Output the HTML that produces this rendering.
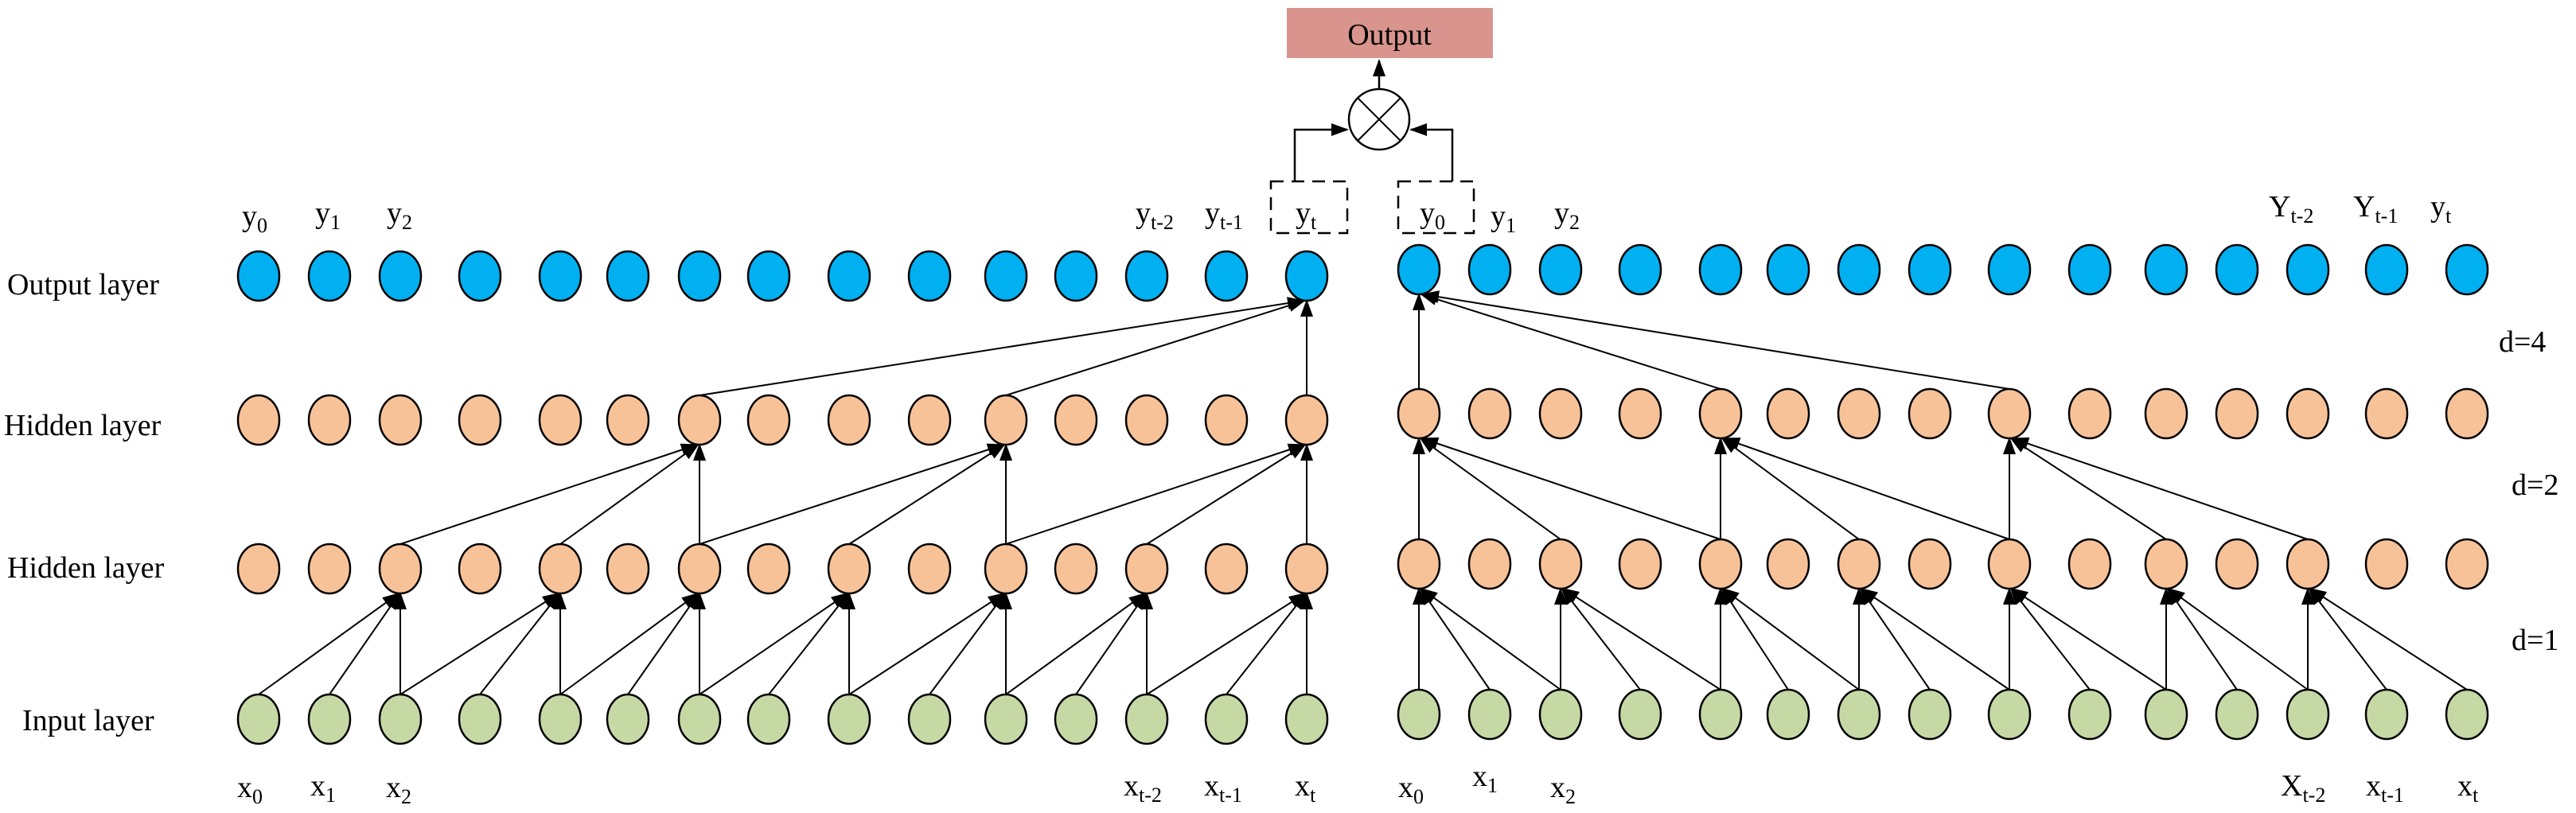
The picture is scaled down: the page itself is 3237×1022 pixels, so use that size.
<!DOCTYPE html>
<html><head><meta charset="utf-8"><style>
html,body{margin:0;padding:0;background:#fff;}
svg{display:block;}
text{font-family:"Liberation Serif",serif;fill:#000;}
</style></head><body>
<svg width="3237" height="1022" viewBox="0 0 3237 1022" xmlns="http://www.w3.org/2000/svg">
<defs>
<marker id="a" markerUnits="userSpaceOnUse" markerWidth="22" markerHeight="16" refX="20" refY="8" orient="auto"><path d="M0,0 L22,8 L0,16 z" fill="#000"/></marker>
</defs>
<!-- Output box -->
<rect x="1617" y="10" width="259" height="63" fill="#d9958d"/>
<text x="1746" y="56" font-size="38" text-anchor="middle">Output</text>
<line x1="1733" y1="112" x2="1733" y2="76" stroke="#000" stroke-width="2.5" marker-end="url(#a)"/>
<circle cx="1733" cy="150" r="38" fill="#fff" stroke="#000" stroke-width="2.5"/>
<line x1="1706" y1="123" x2="1760" y2="177" stroke="#000" stroke-width="2"/>
<line x1="1760" y1="123" x2="1706" y2="177" stroke="#000" stroke-width="2"/>
<polyline points="1627,228 1627,163 1693,163" fill="none" stroke="#000" stroke-width="2.5" marker-end="url(#a)"/>
<polyline points="1825,228 1825,163 1773,163" fill="none" stroke="#000" stroke-width="2.5" marker-end="url(#a)"/>
<rect x="1597" y="228" width="96" height="65" fill="none" stroke="#000" stroke-width="2.5" stroke-dasharray="16,10"/>
<rect x="1757" y="228" width="95" height="65" fill="none" stroke="#000" stroke-width="2.5" stroke-dasharray="16,10"/>

<!-- layer labels -->
<g font-size="38">
<text x="9" y="370">Output layer</text>
<text x="5" y="547">Hidden layer</text>
<text x="9" y="726">Hidden layer</text>
<text x="28" y="918">Input layer</text>
<text x="3140" y="442">d=4</text>
<text x="3156" y="622">d=2</text>
<text x="3156" y="817">d=1</text>
</g>

<!-- top labels -->
<g font-size="38">
<text x="304" y="284">y<tspan font-size="26" dy="8">0</tspan></text>
<text x="396" y="280">y<tspan font-size="26" dy="8">1</tspan></text>
<text x="486" y="280">y<tspan font-size="26" dy="8">2</tspan></text>
<text x="1427" y="280">y<tspan font-size="26" dy="8">t-2</tspan></text>
<text x="1514" y="280">y<tspan font-size="26" dy="8">t-1</tspan></text>
<text x="1628" y="280">y<tspan font-size="26" dy="8">t</tspan></text>
<text x="1784" y="280">y<tspan font-size="26" dy="8">0</tspan></text>
<text x="1873" y="284">y<tspan font-size="26" dy="8">1</tspan></text>
<text x="1953" y="280">y<tspan font-size="26" dy="8">2</tspan></text>
<text x="2851" y="272">Y<tspan font-size="26" dy="8">t-2</tspan></text>
<text x="2957" y="272">Y<tspan font-size="26" dy="8">t-1</tspan></text>
<text x="3054" y="272">y<tspan font-size="26" dy="8">t</tspan></text>
<!-- bottom labels -->
<text x="298" y="1002">x<tspan font-size="26" dy="8">0</tspan></text>
<text x="390" y="1000">x<tspan font-size="26" dy="8">1</tspan></text>
<text x="485" y="1002">x<tspan font-size="26" dy="8">2</tspan></text>
<text x="1412" y="1000">x<tspan font-size="26" dy="8">t-2</tspan></text>
<text x="1513" y="1000">x<tspan font-size="26" dy="8">t-1</tspan></text>
<text x="1627" y="1000">x<tspan font-size="26" dy="8">t</tspan></text>
<text x="1757" y="1002">x<tspan font-size="26" dy="8">0</tspan></text>
<text x="1850" y="988">x<tspan font-size="26" dy="8">1</tspan></text>
<text x="1948" y="1002">x<tspan font-size="26" dy="8">2</tspan></text>
<text x="2866" y="1000">X<tspan font-size="26" dy="8">t-2</tspan></text>
<text x="2973" y="1000">x<tspan font-size="26" dy="8">t-1</tspan></text>
<text x="3088" y="1000">x<tspan font-size="26" dy="8">t</tspan></text>
</g>

<!-- edges -->
<g stroke="#000" stroke-width="2" marker-end="url(#a)">
<!-- left I->H1 -->
<line x1="325" y1="873" x2="501" y2="746"/><line x1="414" y1="873" x2="502" y2="746"/><line x1="503" y1="873" x2="503" y2="746"/>
<line x1="503" y1="873" x2="702" y2="746"/><line x1="603" y1="873" x2="703" y2="746"/><line x1="704" y1="873" x2="704" y2="746"/>
<line x1="704" y1="873" x2="877" y2="746"/><line x1="789" y1="873" x2="878" y2="746"/><line x1="879" y1="873" x2="879" y2="746"/>
<line x1="879" y1="873" x2="1065" y2="746"/><line x1="966" y1="873" x2="1066" y2="746"/><line x1="1067" y1="873" x2="1067" y2="746"/>
<line x1="1067" y1="873" x2="1262" y2="746"/><line x1="1168" y1="873" x2="1263" y2="746"/><line x1="1264" y1="873" x2="1264" y2="746"/>
<line x1="1264" y1="873" x2="1439" y2="746"/><line x1="1352" y1="873" x2="1440" y2="746"/><line x1="1441" y1="873" x2="1441" y2="746"/>
<line x1="1441" y1="873" x2="1640" y2="746"/><line x1="1541" y1="873" x2="1641" y2="746"/><line x1="1642" y1="873" x2="1642" y2="746"/>
<!-- left H1->H2 -->
<line x1="503" y1="684" x2="876" y2="559"/><line x1="704" y1="684" x2="877" y2="559"/><line x1="879" y1="684" x2="879" y2="559"/>
<line x1="879" y1="684" x2="1261" y2="559"/><line x1="1067" y1="684" x2="1262" y2="559"/><line x1="1264" y1="684" x2="1264" y2="559"/>
<line x1="1264" y1="684" x2="1639" y2="559"/><line x1="1441" y1="684" x2="1640" y2="559"/><line x1="1642" y1="684" x2="1642" y2="559"/>
<!-- left H2->O -->
<line x1="879" y1="497" x2="1638" y2="378"/><line x1="1264" y1="497" x2="1639" y2="378"/><line x1="1642" y1="497" x2="1642" y2="378"/>
<!-- right I->H1 -->
<line x1="1783" y1="867" x2="1783" y2="740"/><line x1="1872" y1="867" x2="1785" y2="740"/><line x1="1961" y1="867" x2="1786" y2="740"/>
<line x1="1961" y1="867" x2="1961" y2="740"/><line x1="2061" y1="867" x2="1963" y2="740"/><line x1="2162" y1="867" x2="1964" y2="740"/>
<line x1="2162" y1="867" x2="2162" y2="740"/><line x1="2247" y1="867" x2="2164" y2="740"/><line x1="2336" y1="867" x2="2165" y2="740"/>
<line x1="2336" y1="867" x2="2336" y2="740"/><line x1="2425" y1="867" x2="2338" y2="740"/><line x1="2525" y1="867" x2="2339" y2="740"/>
<line x1="2525" y1="867" x2="2525" y2="740"/><line x1="2626" y1="867" x2="2527" y2="740"/><line x1="2722" y1="867" x2="2528" y2="740"/>
<line x1="2722" y1="867" x2="2722" y2="740"/><line x1="2811" y1="867" x2="2724" y2="740"/><line x1="2900" y1="867" x2="2725" y2="740"/>
<line x1="2900" y1="867" x2="2900" y2="740"/><line x1="2999" y1="867" x2="2902" y2="740"/><line x1="3100" y1="867" x2="2903" y2="740"/>
<!-- right H1->H2 -->
<line x1="1783" y1="678" x2="1783" y2="551"/><line x1="1961" y1="678" x2="1785" y2="551"/><line x1="2162" y1="678" x2="1787" y2="551"/>
<line x1="2162" y1="678" x2="2162" y2="551"/><line x1="2336" y1="678" x2="2164" y2="551"/><line x1="2525" y1="678" x2="2166" y2="551"/>
<line x1="2525" y1="678" x2="2525" y2="551"/><line x1="2722" y1="678" x2="2527" y2="551"/><line x1="2900" y1="678" x2="2529" y2="551"/>
<!-- right H2->O -->
<line x1="1783" y1="489" x2="1783" y2="370"/><line x1="2162" y1="489" x2="1786" y2="370"/><line x1="2525" y1="489" x2="1788" y2="370"/>
</g>

<!-- nodes -->
<g stroke="#000" stroke-width="2.5">
<g fill="#00b0f0">
<ellipse cx="325" cy="347" rx="26" ry="31"/><ellipse cx="414" cy="347" rx="26" ry="31"/><ellipse cx="503" cy="347" rx="26" ry="31"/><ellipse cx="603" cy="347" rx="26" ry="31"/><ellipse cx="704" cy="347" rx="26" ry="31"/><ellipse cx="789" cy="347" rx="26" ry="31"/><ellipse cx="879" cy="347" rx="26" ry="31"/><ellipse cx="966" cy="347" rx="26" ry="31"/><ellipse cx="1067" cy="347" rx="26" ry="31"/><ellipse cx="1168" cy="347" rx="26" ry="31"/><ellipse cx="1264" cy="347" rx="26" ry="31"/><ellipse cx="1352" cy="347" rx="26" ry="31"/><ellipse cx="1441" cy="347" rx="26" ry="31"/><ellipse cx="1541" cy="347" rx="26" ry="31"/><ellipse cx="1642" cy="347" rx="26" ry="31"/>
<ellipse cx="1783" cy="339" rx="26" ry="31"/><ellipse cx="1872" cy="339" rx="26" ry="31"/><ellipse cx="1961" cy="339" rx="26" ry="31"/><ellipse cx="2061" cy="339" rx="26" ry="31"/><ellipse cx="2162" cy="339" rx="26" ry="31"/><ellipse cx="2247" cy="339" rx="26" ry="31"/><ellipse cx="2336" cy="339" rx="26" ry="31"/><ellipse cx="2425" cy="339" rx="26" ry="31"/><ellipse cx="2525" cy="339" rx="26" ry="31"/><ellipse cx="2626" cy="339" rx="26" ry="31"/><ellipse cx="2722" cy="339" rx="26" ry="31"/><ellipse cx="2811" cy="339" rx="26" ry="31"/><ellipse cx="2900" cy="339" rx="26" ry="31"/><ellipse cx="2999" cy="339" rx="26" ry="31"/><ellipse cx="3100" cy="339" rx="26" ry="31"/>
</g>
<g fill="#f8c298">
<ellipse cx="325" cy="528" rx="26" ry="31"/><ellipse cx="414" cy="528" rx="26" ry="31"/><ellipse cx="503" cy="528" rx="26" ry="31"/><ellipse cx="603" cy="528" rx="26" ry="31"/><ellipse cx="704" cy="528" rx="26" ry="31"/><ellipse cx="789" cy="528" rx="26" ry="31"/><ellipse cx="879" cy="528" rx="26" ry="31"/><ellipse cx="966" cy="528" rx="26" ry="31"/><ellipse cx="1067" cy="528" rx="26" ry="31"/><ellipse cx="1168" cy="528" rx="26" ry="31"/><ellipse cx="1264" cy="528" rx="26" ry="31"/><ellipse cx="1352" cy="528" rx="26" ry="31"/><ellipse cx="1441" cy="528" rx="26" ry="31"/><ellipse cx="1541" cy="528" rx="26" ry="31"/><ellipse cx="1642" cy="528" rx="26" ry="31"/>
<ellipse cx="1783" cy="520" rx="26" ry="31"/><ellipse cx="1872" cy="520" rx="26" ry="31"/><ellipse cx="1961" cy="520" rx="26" ry="31"/><ellipse cx="2061" cy="520" rx="26" ry="31"/><ellipse cx="2162" cy="520" rx="26" ry="31"/><ellipse cx="2247" cy="520" rx="26" ry="31"/><ellipse cx="2336" cy="520" rx="26" ry="31"/><ellipse cx="2425" cy="520" rx="26" ry="31"/><ellipse cx="2525" cy="520" rx="26" ry="31"/><ellipse cx="2626" cy="520" rx="26" ry="31"/><ellipse cx="2722" cy="520" rx="26" ry="31"/><ellipse cx="2811" cy="520" rx="26" ry="31"/><ellipse cx="2900" cy="520" rx="26" ry="31"/><ellipse cx="2999" cy="520" rx="26" ry="31"/><ellipse cx="3100" cy="520" rx="26" ry="31"/>
<ellipse cx="325" cy="715" rx="26" ry="31"/><ellipse cx="414" cy="715" rx="26" ry="31"/><ellipse cx="503" cy="715" rx="26" ry="31"/><ellipse cx="603" cy="715" rx="26" ry="31"/><ellipse cx="704" cy="715" rx="26" ry="31"/><ellipse cx="789" cy="715" rx="26" ry="31"/><ellipse cx="879" cy="715" rx="26" ry="31"/><ellipse cx="966" cy="715" rx="26" ry="31"/><ellipse cx="1067" cy="715" rx="26" ry="31"/><ellipse cx="1168" cy="715" rx="26" ry="31"/><ellipse cx="1264" cy="715" rx="26" ry="31"/><ellipse cx="1352" cy="715" rx="26" ry="31"/><ellipse cx="1441" cy="715" rx="26" ry="31"/><ellipse cx="1541" cy="715" rx="26" ry="31"/><ellipse cx="1642" cy="715" rx="26" ry="31"/>
<ellipse cx="1783" cy="709" rx="26" ry="31"/><ellipse cx="1872" cy="709" rx="26" ry="31"/><ellipse cx="1961" cy="709" rx="26" ry="31"/><ellipse cx="2061" cy="709" rx="26" ry="31"/><ellipse cx="2162" cy="709" rx="26" ry="31"/><ellipse cx="2247" cy="709" rx="26" ry="31"/><ellipse cx="2336" cy="709" rx="26" ry="31"/><ellipse cx="2425" cy="709" rx="26" ry="31"/><ellipse cx="2525" cy="709" rx="26" ry="31"/><ellipse cx="2626" cy="709" rx="26" ry="31"/><ellipse cx="2722" cy="709" rx="26" ry="31"/><ellipse cx="2811" cy="709" rx="26" ry="31"/><ellipse cx="2900" cy="709" rx="26" ry="31"/><ellipse cx="2999" cy="709" rx="26" ry="31"/><ellipse cx="3100" cy="709" rx="26" ry="31"/>
</g>
<g fill="#c6d9a5">
<ellipse cx="325" cy="904" rx="26" ry="31"/><ellipse cx="414" cy="904" rx="26" ry="31"/><ellipse cx="503" cy="904" rx="26" ry="31"/><ellipse cx="603" cy="904" rx="26" ry="31"/><ellipse cx="704" cy="904" rx="26" ry="31"/><ellipse cx="789" cy="904" rx="26" ry="31"/><ellipse cx="879" cy="904" rx="26" ry="31"/><ellipse cx="966" cy="904" rx="26" ry="31"/><ellipse cx="1067" cy="904" rx="26" ry="31"/><ellipse cx="1168" cy="904" rx="26" ry="31"/><ellipse cx="1264" cy="904" rx="26" ry="31"/><ellipse cx="1352" cy="904" rx="26" ry="31"/><ellipse cx="1441" cy="904" rx="26" ry="31"/><ellipse cx="1541" cy="904" rx="26" ry="31"/><ellipse cx="1642" cy="904" rx="26" ry="31"/>
<ellipse cx="1783" cy="898" rx="26" ry="31"/><ellipse cx="1872" cy="898" rx="26" ry="31"/><ellipse cx="1961" cy="898" rx="26" ry="31"/><ellipse cx="2061" cy="898" rx="26" ry="31"/><ellipse cx="2162" cy="898" rx="26" ry="31"/><ellipse cx="2247" cy="898" rx="26" ry="31"/><ellipse cx="2336" cy="898" rx="26" ry="31"/><ellipse cx="2425" cy="898" rx="26" ry="31"/><ellipse cx="2525" cy="898" rx="26" ry="31"/><ellipse cx="2626" cy="898" rx="26" ry="31"/><ellipse cx="2722" cy="898" rx="26" ry="31"/><ellipse cx="2811" cy="898" rx="26" ry="31"/><ellipse cx="2900" cy="898" rx="26" ry="31"/><ellipse cx="2999" cy="898" rx="26" ry="31"/><ellipse cx="3100" cy="898" rx="26" ry="31"/>
</g>
</g>
</svg>
</body></html>
